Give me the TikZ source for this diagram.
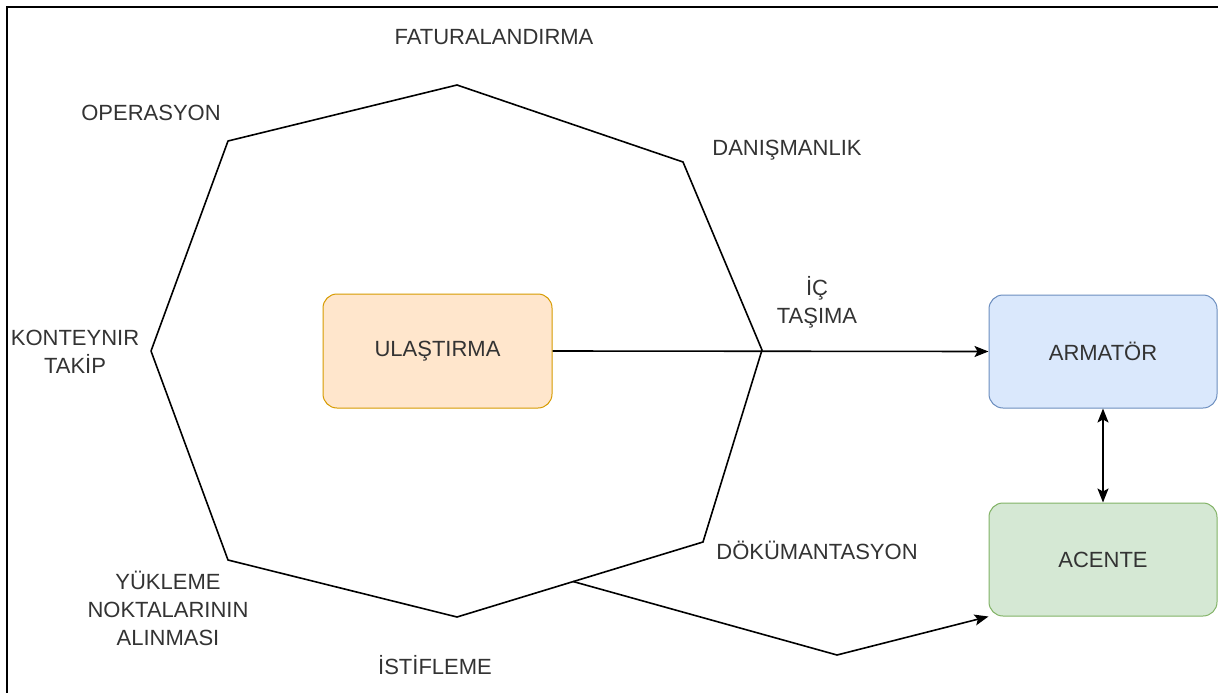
\documentclass[tikz,border=0pt]{standalone}
\usepackage{fontspec}
\setmainfont{Liberation Sans}
\usetikzlibrary{arrows.meta}
\definecolor{txt}{HTML}{333333}
\definecolor{orfill}{HTML}{FFE6CC}
\definecolor{ordraw}{HTML}{D79B00}
\definecolor{blfill}{HTML}{DAE8FC}
\definecolor{bldraw}{HTML}{6C8EBF}
\definecolor{grfill}{HTML}{D5E8D4}
\definecolor{grdraw}{HTML}{82B366}
\begin{document}
\begin{tikzpicture}[x=1pt,y=-1pt,
  lbl/.style={text=txt,align=center,inner sep=0pt,font=\fontsize{22}{28}\selectfont},
  box/.style={rounded corners=14pt,line width=1pt,minimum width=229pt,minimum height=114pt,
              text=txt,font=\fontsize{22}{28}\selectfont,inner sep=0pt},
  conn/.style={line width=1.6pt,-{Stealth[length=14pt,width=11pt,inset=3pt]}},
  edge/.style={line width=1.6pt,line join=round}]
\useasboundingbox (0,0) rectangle (1218,693);
\fill[white] (0,0) rectangle (1218,693);
\coordinate (bl) at (7,693);
\coordinate (tl) at (7,7);
\coordinate (tr) at (1218,7);
\draw[line width=2.2pt] (bl) -- (tl) -- (tr);
% octagon
\coordinate (o1) at (457,85);
\coordinate (o2) at (683,162);
\coordinate (o3) at (762,350);
\coordinate (o4) at (703,542);
\coordinate (o5) at (457,617);
\coordinate (o6) at (228,560);
\coordinate (o7) at (151,351);
\coordinate (o8) at (228,141);
\draw[edge] (o1) -- (o2) -- (o3) -- (o4) -- (o5) -- (o6) -- (o7) -- (o8) -- cycle;
% labels
\node[lbl] (fat) at (494,37) {FATURALANDIRMA};
\node[lbl] (ope) at (151,113) {OPERASYON};
\node[lbl] (dan) at (787,150) {DANIŞMANLIK};
\node[lbl] (ic) at (817,302) {İÇ\\TAŞIMA};
\node[lbl] (kon) at (75,352) {KONTEYNIR\\TAKİP};
\node[lbl] (dok) at (817,550) {DÖKÜMANTASYON};
\node[lbl] (yuk) at (168,608) {YÜKLEME\\NOKTALARININ\\ALINMASI};
\node[lbl] (ist) at (435,665) {İSTİFLEME};
% boxes
\node[box,fill=orfill,draw=ordraw] (ula) at (437.5,351) {ULAŞTIRMA};
\node[box,fill=blfill,draw=bldraw,minimum width=228pt,minimum height=113pt] (arm) at (1103,351.5) {ARMATÖR};
\node[box,fill=grfill,draw=grdraw,minimum width=228pt,minimum height=113pt] (ace) at (1103,559.5) {ACENTE};
% connectors
\draw[conn] (ula.east) -- (arm.west);
\draw[line width=1.6pt,{Stealth[length=14pt,width=11pt,inset=3pt]}-{Stealth[length=14pt,width=11pt,inset=3pt]}] (arm.south) -- (ace.north);
\coordinate (s) at (573,581.5);
\coordinate (m) at (837,655);
\draw[conn,line join=round] (s) -- (m) -- (ace.south west);
\end{tikzpicture}
\end{document}
